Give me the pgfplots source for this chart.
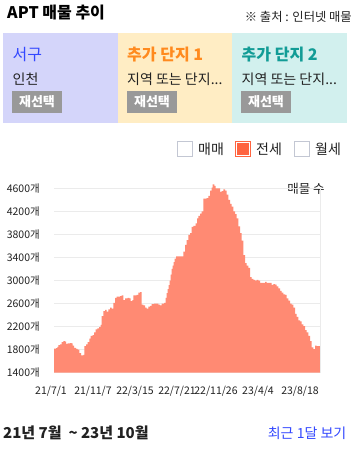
\documentclass[border=0pt]{standalone}
\usepackage{pgfplots}
\pgfplotsset{compat=1.18}
\usepackage{fontspec}
\setmainfont{Noto Sans CJK KR}
\definecolor{areafill}{HTML}{FF8A73}
\definecolor{gridc}{HTML}{EBEBEB}
\definecolor{txt}{HTML}{222222}
\definecolor{panelA}{HTML}{D4D5FA}
\definecolor{panelB}{HTML}{FFEDC4}
\definecolor{panelC}{HTML}{D2F0EE}
\definecolor{blueT}{HTML}{3348FF}
\definecolor{orangeT}{HTML}{FF8A1E}
\definecolor{tealT}{HTML}{129C96}
\definecolor{btn}{HTML}{999999}
\definecolor{boxb}{HTML}{C3C7D3}
\definecolor{redbox}{HTML}{FF6440}
\pgfplotstableread{
x y
0 1820
2 1825
3.3 1850
4.3 1880
6 1890
7.7 1930
9.3 1950
11 1940
12 1900
13.7 1910
16 1915
17.7 1910
18.7 1870
20 1830
22 1815
23.7 1800
25.3 1740
27 1700
29.3 1710
30.3 1860
32 1890
33.7 1930
35.3 1990
36.7 2040
38.7 2050
40 2100
41.7 2150
43.3 2170
45 2190
46.7 2230
47.7 2380
49.3 2470
51 2490
52.7 2460
54.3 2500
56 2530
57.7 2510
59.3 2610
61 2700
62.7 2720
66 2730
67.7 2740
69.3 2660
71 2690
73.7 2700
75.3 2690
76.7 2640
78.3 2660
79.3 2740
82.7 2750
84.3 2790
86 2800
87.7 2580
89.3 2570
91 2530
92.7 2510
94.3 2545
96 2560
97.7 2590
100 2600
102.7 2600
104.3 2580
106 2570
107.7 2600
110 2610
111.7 2700
112.7 2780
113.7 2850
114.7 2920
115.7 3000
116.7 3100
117.7 3200
118.7 3260
119.7 3320
120.7 3380
122 3420
124.3 3420
127.7 3420
129.3 3500
131 3620
132.7 3700
134.3 3790
136 3820
137.7 3930
139.3 3950
141.7 3990
143 4080
144.3 4120
146 4160
147.7 4200
149.3 4420
152.7 4430
154.3 4470
156 4560
157.7 4610
158.7 4670
160.3 4640
161.7 4600
164.3 4600
166 4540
167.7 4550
169.3 4580
171 4560
172.7 4490
174.3 4400
176 4330
177.7 4280
179.3 4200
181 4150
182.7 4080
184.3 3940
186 3820
187.7 3690
189.3 3440
191 3300
192.7 3260
194.3 3220
196 3060
197.7 3030
199.3 3010
201 3000
202.7 3010
204.3 3000
206 2960
209.3 2960
211 2975
212.7 2960
216 2960
217.7 2925
219.3 2935
221 2930
222.7 2900
224.3 2865
226 2820
227.7 2790
229.3 2760
231 2750
232.7 2690
234.3 2650
236 2600
237.7 2580
239.3 2530
241 2420
242.7 2370
244.3 2310
246 2290
247.7 2240
249.3 2210
251 2140
252.7 2100
254.3 2040
256 1950
257.7 1840
259.3 1810
261 1870
262.7 1860
264.3 1860
266 1870
}\listings
\begin{document}
\begin{tikzpicture}[x=1pt,y=-1pt]
\path[use as bounding box,fill=white] (0,0) rectangle (355,449);
% header
\node[anchor=west,inner sep=0pt,font=\fontsize{16}{19}\selectfont\bfseries,text=black] at (7,13) {APT 매물 추이};
\node[anchor=east,inner sep=0pt,font=\fontsize{12.3}{14}\selectfont,text=txt] at (352,17) {※ 출처 : 인터넷 매물};
% panels
\fill[panelA] (3,33.3) rectangle (118,122.7);
\fill[panelB] (118,33.3) rectangle (231.7,122.7);
\fill[panelC] (231.7,33.3) rectangle (346.7,122.7);
\node[anchor=west,inner sep=0pt,font=\fontsize{16}{19}\selectfont,text=blueT] at (12.5,55) {서구};
\node[anchor=west,inner sep=0pt,font=\fontsize{16}{19}\selectfont\bfseries,text=orangeT] at (127,55) {추가 단지 1};
\node[anchor=west,inner sep=0pt,font=\fontsize{16}{19}\selectfont\bfseries,text=tealT] at (241.5,55) {추가 단지 2};
\node[anchor=west,inner sep=0pt,font=\fontsize{14}{16}\selectfont,text=txt] at (12.5,79) {인천};
\node[anchor=west,inner sep=0pt,font=\fontsize{14}{16}\selectfont,text=txt] at (127,79) {지역 또는 단지...};
\node[anchor=west,inner sep=0pt,font=\fontsize{14}{16}\selectfont,text=txt] at (241.5,79) {지역 또는 단지...};
\foreach \bx in {12,127,241}{
  \fill[btn] (\bx,90.7) rectangle ++(50,22);
  \node[inner sep=0pt,font=\fontsize{13}{15}\selectfont\bfseries,text=white] at (\bx+25,101.7) {재선택};
}
% legend
\draw[boxb,line width=0.8pt] (177.4,141.4) rectangle (192.6,156.6);
\node[anchor=west,inner sep=0pt,font=\fontsize{14}{16}\selectfont,text=txt] at (198,149.5) {매매};
\draw[redbox,line width=0.8pt,fill=white] (235.4,141.4) rectangle (250.6,156.6);
\fill[redbox] (236.8,142.8) rectangle (249.2,155.2);
\node[anchor=west,inner sep=0pt,font=\fontsize{14}{16}\selectfont,text=txt] at (256,149.5) {전세};
\draw[boxb,line width=0.8pt] (294.4,141.4) rectangle (309.6,156.6);
\node[anchor=west,inner sep=0pt,font=\fontsize{14}{16}\selectfont,text=txt] at (315,149.5) {월세};
% footer
\node[anchor=west,inner sep=0pt,font=\fontsize{15}{17}\selectfont\bfseries,text=txt] at (3,433) {21년 7월 \ \textasciitilde{} 23년 10월};
\node[anchor=east,inner sep=0pt,font=\fontsize{14}{16}\selectfont,text=blueT] at (346.5,433) {최근 1달 보기};
\node[anchor=center,inner sep=0pt,font=\fontsize{12.5}{14}\selectfont,text=txt] at (306,189) {매물 수};
% chart
\begin{axis}[
  at={(54pt,-372.7pt)}, anchor=south west,
  scale only axis, width=266pt, height=184.4pt,
  xmin=0, xmax=266, ymin=1400, ymax=4600,
  axis line style={draw=none},
  ymajorgrids, grid style={gridc, line width=0.6pt},
  ytick={1400,1800,2200,2600,3000,3400,3800,4200,4600},
  yticklabel={\pgfmathprintnumber{\tick}개},
  /pgf/number format/assume math mode=true,
  /pgf/number format/1000 sep={},
  xtick={0,42,84,126,165,207,249},
  xticklabels={21/7/1,21/11/7,22/3/15,22/7/21,22/11/26,23/4/4,23/8/18},
  major tick length=0pt,
  tick style={draw=none},
  tick label style={font=\fontsize{10.5}{12}\selectfont, text=txt, inner sep=0pt},
  yticklabel style={anchor=east, xshift=-14pt},
  xticklabel style={anchor=center, xshift=-3pt, yshift=-18.5pt},
  clip=false,
]
\addplot[const plot, fill=areafill, draw=none] table[x=x,y=y] {\listings} \closedcycle;
\draw[gridc, line width=0.7pt] (axis cs:266,1400) -- (axis cs:266,4600);
\end{axis}
\end{tikzpicture}
\end{document}
